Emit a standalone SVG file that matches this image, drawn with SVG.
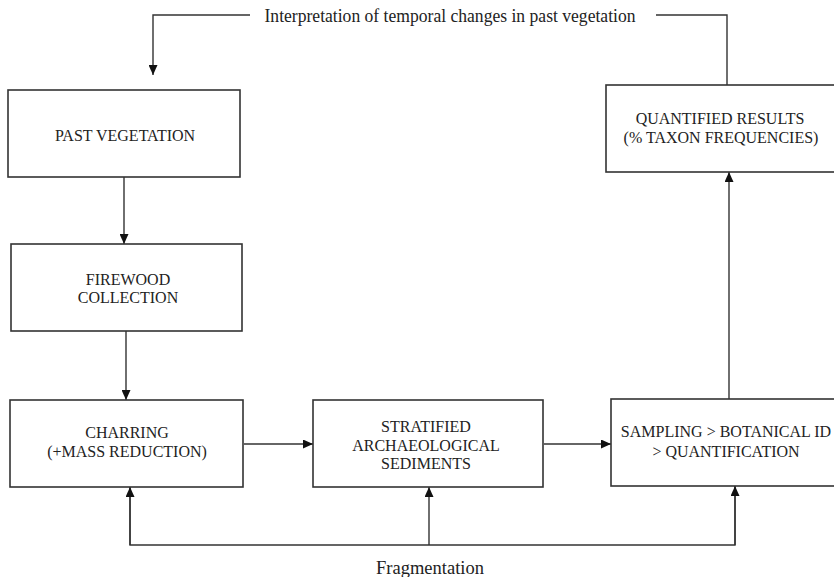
<svg xmlns="http://www.w3.org/2000/svg" width="834" height="577" viewBox="0 0 834 577">
  <style>
    .box { fill: #ffffff; stroke: #333333; stroke-width: 1.6; }
    .lbl { font-family: "Liberation Serif", "Times New Roman", serif; font-size: 16px; fill: #222222; text-anchor: middle; }
    .big { font-size: 18px; }
    .conn { fill: none; stroke: #333333; stroke-width: 1.4; }
  </style>
  <defs>
    <marker id="arr" viewBox="0 0 10 10" refX="10" refY="5" markerWidth="10" markerHeight="9" markerUnits="userSpaceOnUse" orient="auto" preserveAspectRatio="none">
      <path d="M0,0 L10,5 L0,10 z" fill="#111111"/>
    </marker>
  </defs>
  <rect width="834" height="577" fill="#ffffff"/>

  <g id="connectors">
    <polyline class="conn" points="250,15 153,15 153,75" marker-end="url(#arr)"/>
    <polyline class="conn" points="656,15 727,15 727,85"/>
    <line class="conn" x1="124" y1="177" x2="124" y2="244" marker-end="url(#arr)"/>
    <line class="conn" x1="126" y1="331" x2="126" y2="400" marker-end="url(#arr)"/>
    <line class="conn" x1="244" y1="444" x2="313" y2="444" marker-end="url(#arr)"/>
    <line class="conn" x1="544" y1="444" x2="611" y2="444" marker-end="url(#arr)"/>
    <line class="conn" x1="729" y1="399" x2="729" y2="172" marker-end="url(#arr)"/>
    <polyline class="conn" points="130,487 130,545 735,545 735,486"/>
    <line class="conn" x1="130" y1="545" x2="130" y2="487" marker-end="url(#arr)"/>
    <line class="conn" x1="429" y1="545" x2="429" y2="487" marker-end="url(#arr)"/>
    <line class="conn" x1="735" y1="545" x2="735" y2="486" marker-end="url(#arr)"/>
  </g>

  <g id="label-interpretation">
    <text class="lbl big" x="450" y="22" textLength="371" lengthAdjust="spacingAndGlyphs">Interpretation of temporal changes in past vegetation</text>
  </g>
  <g id="label-fragmentation">
    <text class="lbl big" x="430" y="574" textLength="108" lengthAdjust="spacingAndGlyphs">Fragmentation</text>
  </g>

  <g id="past-vegetation">
    <rect class="box" x="8" y="90" width="232" height="87"/>
    <text class="lbl" x="125" y="141">PAST VEGETATION</text>
  </g>
  <g id="firewood-collection">
    <rect class="box" x="11" y="244" width="231" height="87"/>
    <text class="lbl" x="128" y="285">FIREWOOD</text>
    <text class="lbl" x="128" y="303">COLLECTION</text>
  </g>
  <g id="charring">
    <rect class="box" x="10" y="400" width="233" height="87"/>
    <text class="lbl" x="127" y="438">CHARRING</text>
    <text class="lbl" x="127" y="457">(+MASS REDUCTION)</text>
  </g>
  <g id="stratified-sediments">
    <rect class="box" x="313" y="400" width="230" height="87"/>
    <text class="lbl" x="426" y="432">STRATIFIED</text>
    <text class="lbl" x="426" y="451">ARCHAEOLOGICAL</text>
    <text class="lbl" x="426" y="469">SEDIMENTS</text>
  </g>
  <g id="sampling">
    <rect class="box" x="611" y="399" width="240" height="87"/>
    <text class="lbl" x="726" y="437">SAMPLING &gt; BOTANICAL ID</text>
    <text class="lbl" x="726" y="457">&gt; QUANTIFICATION</text>
  </g>
  <g id="quantified-results">
    <rect class="box" x="606" y="85" width="245" height="87"/>
    <text class="lbl" x="720" y="124">QUANTIFIED RESULTS</text>
    <text class="lbl" x="721" y="143">(% TAXON FREQUENCIES)</text>
  </g>
</svg>
